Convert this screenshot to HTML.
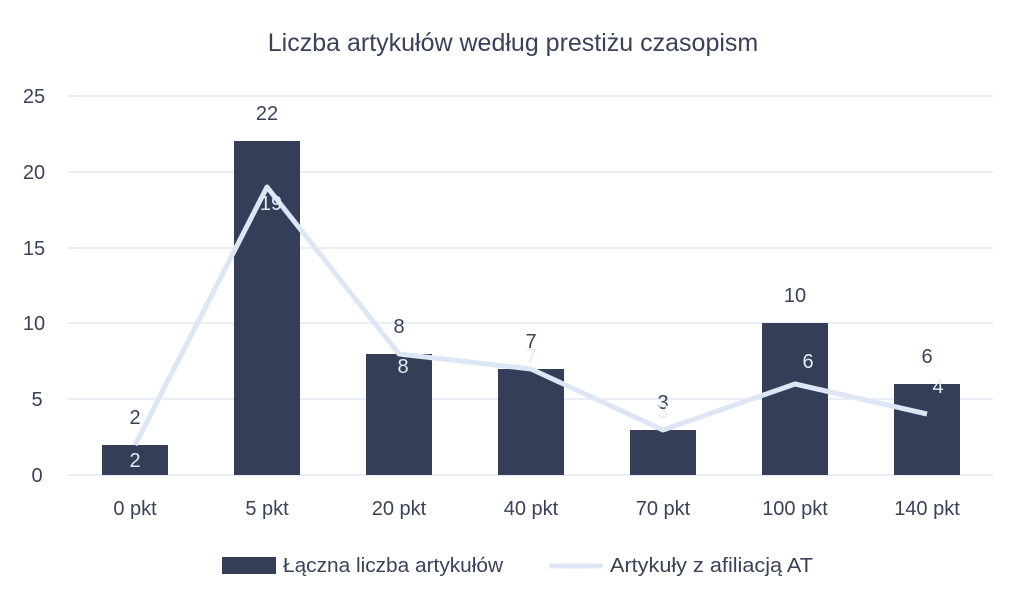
<!DOCTYPE html>
<html><head><meta charset="utf-8"><style>
html,body{margin:0;padding:0;background:#fff;}
svg{display:block;font-family:"Liberation Sans",sans-serif;}
</style></head><body>
<svg width="1024" height="608" viewBox="0 0 1024 608" xmlns="http://www.w3.org/2000/svg">
<rect width="1024" height="608" fill="#fff"/>
<text x="513" y="51" text-anchor="middle" font-size="25" fill="#3a4259">Liczba artykułów według prestiżu czasopism</text>
<g stroke="#d9ddef" stroke-width="1">
<line x1="68" y1="96" x2="993" y2="96"/>
<line x1="68" y1="172" x2="993" y2="172"/>
<line x1="68" y1="248" x2="993" y2="248"/>
<line x1="68" y1="323" x2="993" y2="323"/>
<line x1="68" y1="399" x2="993" y2="399"/>
<line x1="68" y1="475" x2="993" y2="475"/>
</g>
<g font-size="20" fill="#3a4259" text-anchor="middle">
<text x="34" y="103">25</text><text x="34" y="179">20</text><text x="34" y="255">15</text>
<text x="34" y="330">10</text><text x="37" y="406">5</text><text x="37" y="482">0</text>
</g>
<g fill="#353e58">
<rect x="102" y="445" width="66" height="30"/>
<rect x="234" y="141" width="66" height="334"/>
<rect x="366" y="354" width="66" height="121"/>
<rect x="498" y="369" width="66" height="106"/>
<rect x="630" y="430" width="66" height="45"/>
<rect x="762" y="323" width="66" height="152"/>
<rect x="894" y="384" width="66" height="91"/>
</g>
<polyline points="135,445 267,187 399,354 531,369 663,430 795,384 927,414" fill="none" stroke="#dce6f5" stroke-width="5" stroke-linejoin="round"/>
<g font-size="20" fill="#3a4259" text-anchor="middle">
<text x="135" y="424">2</text><text x="267" y="120">22</text><text x="399" y="333">8</text>
<text x="531" y="348">7</text><text x="663" y="409">3</text><text x="795" y="302">10</text><text x="927" y="363">6</text>
</g>
<g font-size="20" fill="#e4ebf7" text-anchor="middle">
<text x="135" y="467">2</text><text x="271" y="210">19</text><text x="403" y="373">8</text>
<text x="531" y="363">7</text><text x="663" y="418">3</text><text x="808" y="368">6</text><text x="938" y="393">4</text>
</g>
<g font-size="20" fill="#3a4259" text-anchor="middle">
<text x="135" y="515">0 pkt</text><text x="267" y="515">5 pkt</text><text x="399" y="515">20 pkt</text>
<text x="531" y="515">40 pkt</text><text x="663" y="515">70 pkt</text><text x="795" y="515">100 pkt</text><text x="927" y="515">140 pkt</text>
</g>
<rect x="222" y="557" width="54" height="17" fill="#353e58"/>
<text x="283" y="572" font-size="20" fill="#3a4259" textLength="220" lengthAdjust="spacingAndGlyphs">Łączna liczba artykułów</text>
<line x1="549" y1="566" x2="603" y2="566" stroke="#dce6f5" stroke-width="5"/>
<text x="610" y="572" font-size="20" fill="#3a4259" textLength="203" lengthAdjust="spacingAndGlyphs">Artykuły z afiliacją AT</text>
</svg>
</body></html>
